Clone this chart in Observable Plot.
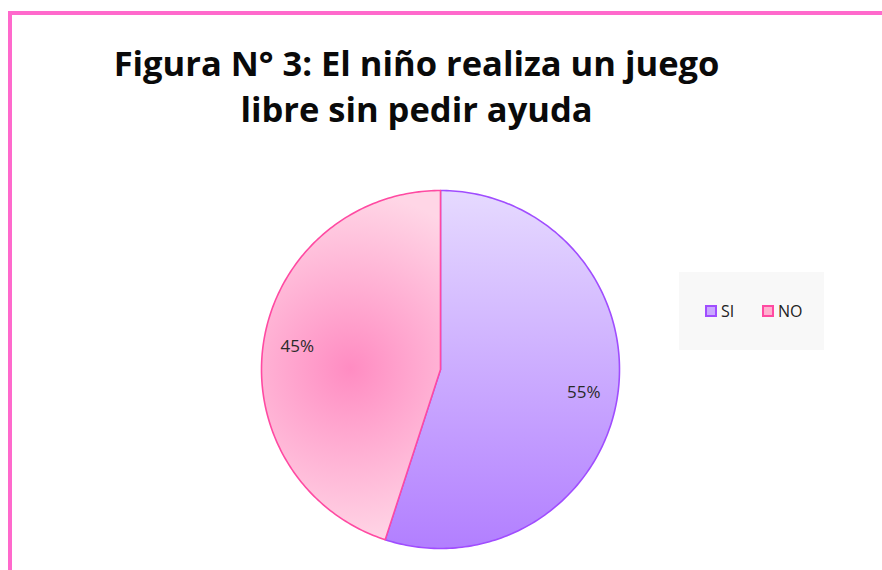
<!DOCTYPE html>
<html>
<head>
<meta charset="utf-8">
<script src="https://cdn.jsdelivr.net/npm/d3@7"></script>
<script src="https://cdn.jsdelivr.net/npm/@observablehq/plot@0.6"></script>
<style>
  html, body { margin: 0; padding: 0; background: #fff; width: 882px; height: 570px; overflow: hidden; }
  #frame { position: absolute; left: 8px; top: 11px; width: 900px; height: 600px;
           border-top: 4px solid #ff69cc; border-left: 4px solid #ff69cc; box-sizing: border-box; }
  #title { position: absolute; left: 0; top: 40px; width: 833px; text-align: center;
           font-family: "Open Sans", sans-serif; font-weight: 700; font-size: 34.5px; line-height: 46px; color: #0a0a0a; }
  #chart { position: absolute; left: 0; top: 0; }
  #legend { position: absolute; left: 679px; top: 272px; width: 145px; height: 78px; background: #f8f8f8;
            font-family: "Open Sans", sans-serif; font-size: 16px; color: #222; }
  .item { position: absolute; top: 28px; line-height: 22px; }
  .sw { display: inline-block; width: 8px; height: 8px; border: 2px solid; vertical-align: 0px; margin-right: 4px; }
</style>
</head>
<body>
<div id="frame"></div>
<div id="title">Figura N° 3: El niño realiza un juego<br>libre sin pedir ayuda</div>
<div id="chart"></div>
<div id="legend"></div>
<script>
const categories = ["SI", "NO"];
const values = [55, 45];
const labels = ["55%", "45%"];
const strokes = ["#a04dff", "#ff4aa2"];
const swatchFills = ["#c9a8ff", "#ffb0cf"];

// slice polygons in unit coordinates (angle clockwise from top)
const total = d3.sum(values);
let acc = 0;
const slices = categories.map((c, i) => {
  const a0 = acc / total * 2 * Math.PI;
  acc += values[i];
  const a1 = acc / total * 2 * Math.PI;
  const pts = [{x: 0, y: 0}];
  const n = Math.max(2, Math.ceil((a1 - a0) / (Math.PI / 180)));
  for (let k = 0; k <= n; k++) {
    const a = a0 + (a1 - a0) * k / n;
    pts.push({x: Math.sin(a), y: Math.cos(a)});
  }
  pts.push({x: 0, y: 0});
  const am = (a0 + a1) / 2;
  return {cat: c, pts, label: labels[i], lx: 0.81 * Math.sin(am), ly: 0.81 * Math.cos(am)};
});

const plot = Plot.plot({
  width: 882,
  height: 570,
  margin: 0,
  x: {domain: [-1, 1], range: [261, 619], axis: null},
  y: {domain: [-1, 1], range: [548, 190], axis: null},
  style: {background: "transparent", overflow: "visible"},
  marks: [
    Plot.line(slices[0].pts, {x: "x", y: "y", fill: "url(#gSI)", stroke: strokes[0], strokeWidth: 1.6, curve: "linear"}),
    Plot.line(slices[1].pts, {x: "x", y: "y", fill: "url(#gNO)", stroke: strokes[1], strokeWidth: 1.6, curve: "linear"}),
    Plot.text(slices, {x: "lx", y: "ly", text: "label", fontSize: 17, fill: "#2a2a2a", fontFamily: "Open Sans"})
  ]
});

const svg = d3.select(plot);
const defs = svg.insert("defs", ":first-child");
const lg = defs.append("linearGradient").attr("id", "gSI").attr("gradientUnits", "userSpaceOnUse")
  .attr("x1", 0).attr("y1", 190).attr("x2", 0).attr("y2", 548);
lg.append("stop").attr("offset", 0).attr("stop-color", "#e6daff");
lg.append("stop").attr("offset", 1).attr("stop-color", "#b27fff");
const rg = defs.append("radialGradient").attr("id", "gNO").attr("gradientUnits", "userSpaceOnUse")
  .attr("cx", 350).attr("cy", 368).attr("r", 175);
rg.append("stop").attr("offset", 0).attr("stop-color", "#ff8cc2");
rg.append("stop").attr("offset", 1).attr("stop-color", "#ffd6e6");

document.getElementById("chart").appendChild(plot);

// legend
const legend = d3.select("#legend");
const lefts = [26, 83];
categories.forEach((c, i) => {
  const it = legend.append("div").attr("class", "item").style("left", lefts[i] + "px");
  it.append("span").attr("class", "sw").style("border-color", strokes[i]).style("background", swatchFills[i]);
  it.append("span").text(c);
});
</script>
</body>
</html>
